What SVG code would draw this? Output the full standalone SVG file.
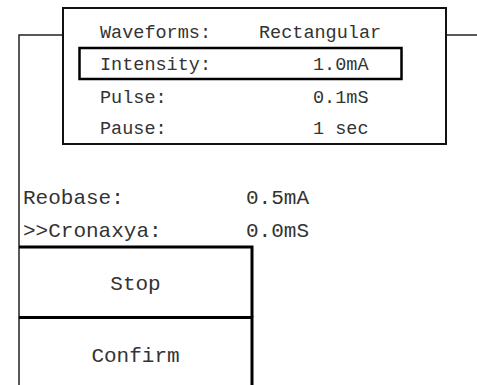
<svg xmlns="http://www.w3.org/2000/svg" width="477" height="385" viewBox="0 0 477 385">
<style>
.t{font-family:"Liberation Mono","DejaVu Sans Mono",monospace;fill:#333}
.p{font-size:18.5px}
.l{font-size:21px}
.c{text-anchor:middle}
.thin{fill:none;stroke:#222;stroke-width:1.5}
.thick{fill:none;stroke:#000;stroke-width:3}
</style>
<rect width="477" height="385" fill="#fff"/>
<g id="connectors">
<path class="thin" d="M19,385 V35 H63"/>
<path class="thin" d="M447,35 H477"/>
</g>
<g id="panel">
<rect x="63" y="8" width="383" height="136" fill="#fff" stroke="#111" stroke-width="2"/>
<rect id="highlight" x="79.5" y="48" width="322" height="31" fill="none" stroke="#000" stroke-width="2.5"/>
<text class="t p" x="100" y="38">Waveforms:</text>
<text class="t p" x="259" y="38">Rectangular</text>
<text class="t p" x="100" y="70">Intensity:</text>
<text class="t p" x="313" y="70">1.0mA</text>
<text class="t p" x="100" y="102.5">Pulse:</text>
<text class="t p" x="313" y="102.5">0.1mS</text>
<text class="t p" x="100" y="133.5">Pause:</text>
<text class="t p" x="313" y="133.5">1 sec</text>
</g>
<g id="params">
<text class="t l" x="23" y="204">Reobase:</text>
<text class="t l" x="246" y="204">0.5mA</text>
<text class="t l" x="23" y="236.5">&gt;&gt;Cronaxya:</text>
<text class="t l" x="246" y="236.5">0.0mS</text>
</g>
<g id="stop">
<path class="thick" d="M19,247 H252 V317"/>
<text class="t l c" x="135.5" y="290">Stop</text>
</g>
<g id="confirm">
<path class="thick" d="M19,317.5 H252 V385"/>
<text class="t l c" x="135.5" y="362">Confirm</text>
</g>
</svg>
